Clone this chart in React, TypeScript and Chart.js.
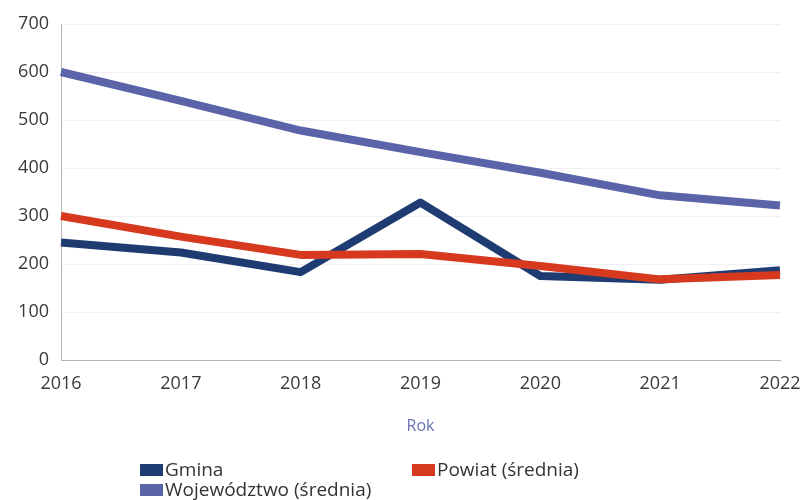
import React, { useEffect, useRef } from "react";
import { Chart, registerables } from "chart.js";

Chart.register(...registerables);

const years = ["2016", "2017", "2018", "2019", "2020", "2021", "2022"];
const gmina = [245, 224, 183, 328, 175, 167, 187];
const powiat = [300, 257, 219, 221, 196, 168, 177];
const wojewodztwo = [600, 540, 478, 433, 390, 343, 322];
const yTicks = [0, 100, 200, 300, 400, 500, 600, 700];

const FONT = "'Open Sans', 'Noto Sans', sans-serif";

const legendPlugin = {
  id: "gridLegend",
  afterDraw(chart: any) {
    const ctx = chart.ctx;
    const items = [
      { idx: 0, x: 140, y: 470 },
      { idx: 1, x: 412, y: 470 },
      { idx: 2, x: 140, y: 490 },
    ];
    ctx.save();
    ctx.font = `19px ${FONT}`;
    ctx.textBaseline = "middle";
    ctx.textAlign = "left";
    for (const it of items) {
      const ds = chart.data.datasets[it.idx];
      ctx.fillStyle = ds.borderColor;
      ctx.fillRect(it.x, it.y - 6, 23, 12);
      ctx.fillStyle = "#333";
      ctx.fillText(ds.label, it.x + 25, it.y + 1);
    }
    ctx.restore();
  },
};

export default function App() {
  const ref = useRef<HTMLCanvasElement>(null);
  useEffect(() => {
    const chart = new Chart(ref.current!, {
      type: "line",
      data: {
        labels: years,
        datasets: [
          { label: "Gmina", data: gmina, borderColor: "#1f3c72", backgroundColor: "#1f3c72", order: 1 },
          { label: "Powiat (średnia)", data: powiat, borderColor: "#d7391f", backgroundColor: "#d7391f", order: 0 },
          { label: "Województwo (średnia)", data: wojewodztwo, borderColor: "#5b63a9", backgroundColor: "#5b63a9", order: 2 },
        ],
      },
      options: {
        animation: false,
        responsive: false,
        maintainAspectRatio: false,
        elements: {
          line: { borderWidth: 8, tension: 0, borderCapStyle: "butt", borderJoinStyle: "round" },
          point: { radius: 0, hoverRadius: 0 },
        },
        layout: { padding: { left: 0, right: 0, top: 24, bottom: 50 } },
        plugins: { legend: { display: false }, tooltip: { enabled: false } },
        scales: {
          x: {
            offset: false,
            grid: { display: false, drawTicks: false },
            border: { display: true, color: "#b5b5b5", width: 1 },
            ticks: { padding: 13, color: "#3a3a3a", font: { family: FONT, size: 18 }, maxRotation: 0 },
            title: { display: true, text: "Rok", color: "#6a73b6", font: { family: FONT, size: 16 }, padding: { top: 4, bottom: 14 } },
            afterFit(scale: any) { scale.height = 90; scale.paddingRight = 21; scale.paddingLeft = 0; },
          },
          y: {
            min: 0,
            max: 700,
            afterBuildTicks(scale: any) { scale.ticks = yTicks.map((v) => ({ value: v })); },
            grid: { color: "#f0f0f0", drawTicks: false },
            border: { display: true, color: "#b5b5b5", width: 1 },
            ticks: { padding: 12, color: "#3a3a3a", font: { family: FONT, size: 18 } },
            afterFit(scale: any) { scale.width = 61; },
          },
        },
      },
      plugins: [legendPlugin],
    });
    return () => chart.destroy();
  }, []);
  return (
    <div style={{ position: "fixed", left: 0, top: 0, width: 801, height: 500, background: "#fff" }}>
      <canvas ref={ref} width={801} height={500} style={{ display: "block" }} />
    </div>
  );
}
